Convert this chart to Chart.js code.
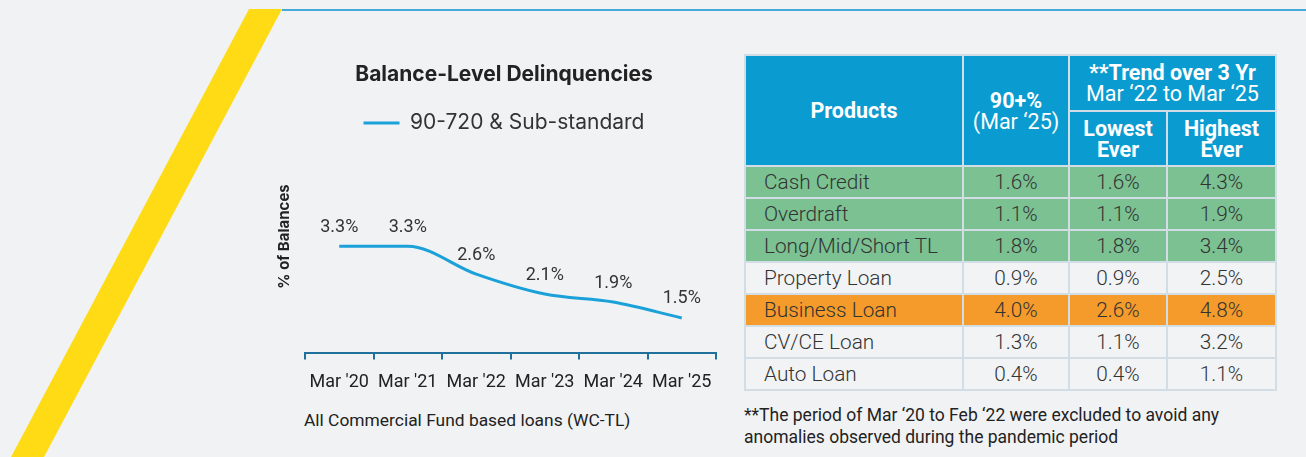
<!DOCTYPE html>
<html>
<head>
<meta charset="utf-8">
<script src="https://cdn.jsdelivr.net/npm/chart.js@4.4.1/dist/chart.umd.min.js"></script>
<style>
  html, body { margin: 0; padding: 0; }
  body { width: 1306px; height: 457px; background: #f1f2f4; position: relative; overflow: hidden; font-family: Roboto, "Noto Sans", sans-serif; }
  #stripe { position: absolute; left: 0; top: 0; }
  #topline { position: absolute; left: 282px; top: 9px; width: 1024px; height: 2px; background: #45aadb; }
  #chartWrap { position: absolute; left: 270px; top: 45px; width: 468px; height: 360px; }
  #leftNote { position: absolute; left: 304px; top: 410px; font-size: 17.4px; color: #222; white-space: nowrap; }
  #tbl { position: absolute; left: 744px; top: 54px; width: 531px; border-collapse: collapse; table-layout: fixed; }
  #tbl td, #tbl th { border: 2px solid #d3dde5; padding: 0; color: #333; font-size: 20.8px; text-align: center; font-weight: 300; }
  #tbl th { background: #0a9bd0; color: #fff; line-height: 21px; font-size: 21.5px; font-weight: 400; }
  #tbl td.prod { text-align: left; padding-left: 18px; }
  #tbl tbody tr { height: 32px; }
  #note { position: absolute; left: 744px; top: 404px; font-size: 17.5px; line-height: 22px; color: #222; white-space: nowrap; }
  b { font-weight: 700; }
</style>
</head>
<body>
<svg id="stripe" width="300" height="457"><polygon points="249,9 282,9 44,457 11,457" fill="#fedb14"/></svg>
<div id="topline"></div>
<div id="chartWrap"><canvas id="c" width="468" height="360"></canvas></div>
<div id="leftNote">All Commercial Fund based loans (WC-TL)</div>
<table id="tbl">
  <colgroup><col style="width:218px"><col style="width:106px"><col style="width:98px"><col style="width:109px"></colgroup>
  <thead>
    <tr style="height:56px"><th rowspan="2"><b>Products</b></th><th rowspan="2"><b>90+%</b><br>(Mar ‘25)</th><th colspan="2"><b>**Trend over 3 Yr</b><br>Mar ‘22 to Mar ‘25</th></tr>
    <tr style="height:55px"><th><b>Lowest<br>Ever</b></th><th><b>Highest<br>Ever</b></th></tr>
  </thead>
  <tbody id="tb"></tbody>
</table>
<div id="note">**The period of Mar ‘20 to Feb ‘22 were excluded to avoid any<br>anomalies observed during the pandemic period</div>
<script>
// ---- Chart data ----
const categories = ["Mar '20", "Mar '21", "Mar '22", "Mar '23", "Mar '24", "Mar '25"];
const delinquency = [3.3, 3.3, 2.6, 2.1, 1.9, 1.5];
const seriesName = "90-720 & Sub-standard";
const yAxisTitle = "% of Balances";

// ---- Table data ----
const products = ["Cash Credit", "Overdraft", "Long/Mid/Short TL", "Property Loan", "Business Loan", "CV/CE Loan", "Auto Loan"];
const npa90 = ["1.6%", "1.1%", "1.8%", "0.9%", "4.0%", "1.3%", "0.4%"];
const lowestEver = ["1.6%", "1.1%", "1.8%", "0.9%", "2.6%", "1.1%", "0.4%"];
const highestEver = ["4.3%", "1.9%", "3.4%", "2.5%", "4.8%", "3.2%", "1.1%"];

// row styling (kept separate from data)
const rowBg = ["#7bc192", "#7bc192", "#7bc192", "#f2f3f5", "#f59b2c", "#f2f3f5", "#f2f3f5"];

const tb = document.getElementById('tb');
products.forEach((p, i) => {
  const tr = document.createElement('tr');
  tr.style.background = rowBg[i];
  [p, npa90[i], lowestEver[i], highestEver[i]].forEach((v, j) => {
    const td = document.createElement('td');
    td.textContent = v;
    if (j === 0) td.className = 'prod';
    tr.appendChild(td);
  });
  tb.appendChild(tr);
});

const lineColor = '#1ba1d9';
const axisColor = '#20709c';

const valueLabels = {
  id: 'valueLabels',
  afterDatasetsDraw(chart) {
    const ctx = chart.ctx;
    const meta = chart.getDatasetMeta(0);
    ctx.save();
    ctx.font = '18px Roboto';
    ctx.fillStyle = '#333';
    ctx.textAlign = 'center';
    ctx.textBaseline = 'middle';
    meta.data.forEach((pt, i) => {
      ctx.fillText(chart.data.datasets[0].data[i].toFixed(1) + '%', pt.x, pt.y - 19);
    });
    // y-axis title
    const ca = chart.chartArea;
    ctx.translate(ca.left - 21, (ca.top + ca.bottom) / 2 - 12);
    ctx.rotate(-Math.PI / 2);
    ctx.font = 'bold 15px Inter';
    ctx.fillStyle = '#222';
    ctx.fillText(yAxisTitle, 0, 0);
    ctx.restore();
  }
};

new Chart(document.getElementById('c'), {
  type: 'line',
  data: {
    labels: categories,
    datasets: [{
      label: seriesName,
      data: delinquency,
      borderColor: lineColor,
      backgroundColor: lineColor,
      borderWidth: 3,
      pointRadius: 0,
      cubicInterpolationMode: 'monotone',
      yAxisID: 'y'
    }]
  },
  options: {
    responsive: false,
    animation: false,
    layout: { padding: { top: 0, left: 0, right: 0, bottom: 0 } },
    plugins: {
      title: {
        display: true,
        text: 'Balance-Level Delinquencies',
        font: { family: 'Inter', size: 21, weight: 'bold' },
        color: '#222',
        padding: { top: 17.4, bottom: 14.9 }
      },
      legend: {
        display: true,
        labels: {
          usePointStyle: true,
          pointStyle: 'line',
          pointStyleWidth: 36,
          font: { family: 'Inter', size: 21 },
          color: '#333',
          padding: 10
        }
      },
      tooltip: { enabled: false }
    },
    scales: {
      x: {
        type: 'category',
        offset: true,
        grid: { display: true, drawOnChartArea: false, offset: true, tickLength: 6, color: axisColor, lineWidth: 2 },
        border: { display: true, color: axisColor, width: 2 },
        ticks: { font: { family: 'Roboto', size: 18 }, color: '#222', padding: 12, maxRotation: 0, autoSkip: false }
      },
      y: {
        position: 'left',
        min: 0.61,
        max: 5.88,
        ticks: { display: false },
        grid: { display: false, drawTicks: false },
        border: { display: false },
        afterFit(scale) { scale.width = 35; }
      },
      y2: {
        position: 'right',
        ticks: { display: false },
        grid: { display: false, drawTicks: false },
        border: { display: false },
        afterFit(scale) { scale.width = 22; }
      }
    }
  },
  plugins: [valueLabels]
});
</script>
</body>
</html>
